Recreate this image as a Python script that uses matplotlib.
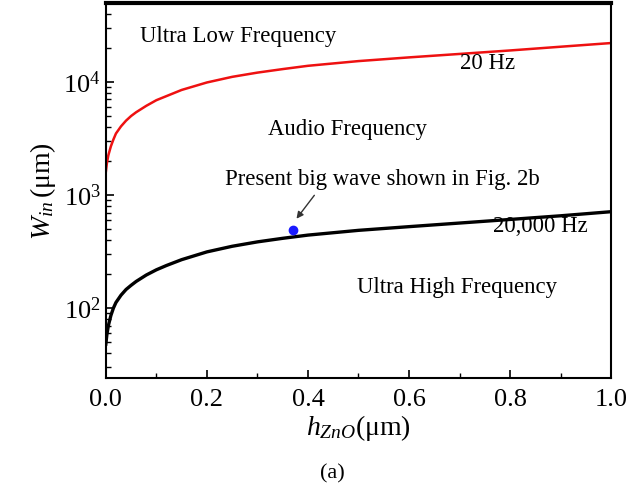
import numpy as np
import matplotlib
matplotlib.use("Agg")
import matplotlib.pyplot as plt

plt.rcParams['font.family'] = ['Liberation Serif', 'DejaVu Serif']
plt.rcParams['mathtext.fontset'] = 'custom'
plt.rcParams['mathtext.rm'] = 'Liberation Serif'
plt.rcParams['mathtext.it'] = 'Liberation Serif:italic'

# thickness of ZnO layer (um) and wavelength curves
h_zno = [0.0, 0.002, 0.005, 0.01, 0.015, 0.02, 0.03, 0.04, 0.05, 0.06, 0.08, 0.1, 0.12,
         0.15, 0.2, 0.25, 0.3, 0.35, 0.4, 0.5, 0.6, 0.7, 0.8, 0.9, 1.0]
w_20hz = [1600, 1900, 2250, 2700, 3100, 3500, 4050, 4550, 5000, 5400, 6150, 6900, 7500,
          8500, 9900, 11100, 12100, 13000, 13900, 15300, 16500, 17700, 19000, 20500, 22100]
w_20khz = [48, 58, 70, 86, 100, 112, 130, 146, 159, 172, 196, 218, 238,
           268, 314, 352, 385, 414, 442, 487, 525, 565, 608, 655, 712]

# present big wave (Fig. 2b)
point_h = [0.37]
point_w = [490]

fig = plt.figure(figsize=(6.3, 4.93), dpi=100)
ax = fig.add_axes([0.168, 0.233, 0.802, 0.761])

ax.plot(h_zno, w_20hz, color='#ee1111', lw=1.8)
ax.plot(h_zno, w_20khz, color='black', lw=2.4)
ax.plot(point_h, point_w, 'o', color='#1a1aff', ms=6)

ax.set_yscale('log')
ax.set_xlim(0, 1.0)
ax.set_ylim(24, 5e4)
ax.set_xticks(np.arange(0, 1.01, 0.2))
ax.set_xticks(np.arange(0.1, 1.0, 0.2), minor=True)
ax.tick_params(which='both', direction='in', top=False, right=False, labelsize=19)
ax.tick_params(which='major', length=6, width=1.2)
ax.tick_params(which='minor', length=3.5, width=1.0)
ax.tick_params(axis='x', pad=8)
for side in ['left', 'right', 'bottom']:
    ax.spines[side].set_linewidth(1.5)
ax.spines['top'].set_linewidth(3)

ax.set_xlabel(r'$h_{ZnO}$(μm)', fontsize=20, labelpad=1)
ax.set_ylabel(r'$W_{in}\,$(μm)', fontsize=20, labelpad=4)

fs = 16.4
ax.text(0.067, 25000, 'Ultra Low Frequency', fontsize=fs, va='center', ha='left')
ax.text(0.756, 14700, '20 Hz', fontsize=fs, va='center', ha='center')
ax.text(0.32, 3760, 'Audio Frequency', fontsize=fs, va='center', ha='left')
ax.text(0.236, 1360, 'Present big wave shown in Fig. 2b', fontsize=fs, va='center', ha='left')
ax.text(0.766, 532, '20,000 Hz', fontsize=fs, va='center', ha='left')
ax.text(0.497, 151, 'Ultra High Frequency', fontsize=fs, va='center', ha='left')
ax.annotate('', xy=(0.374, 590), xytext=(0.416, 1040),
            arrowprops=dict(arrowstyle='-|>', color='#333333', lw=1.0, mutation_scale=10))

fig.text(0.528, 0.038, '(a)', fontsize=16, ha='center', va='center')

fig.savefig('out.png', dpi=100)
